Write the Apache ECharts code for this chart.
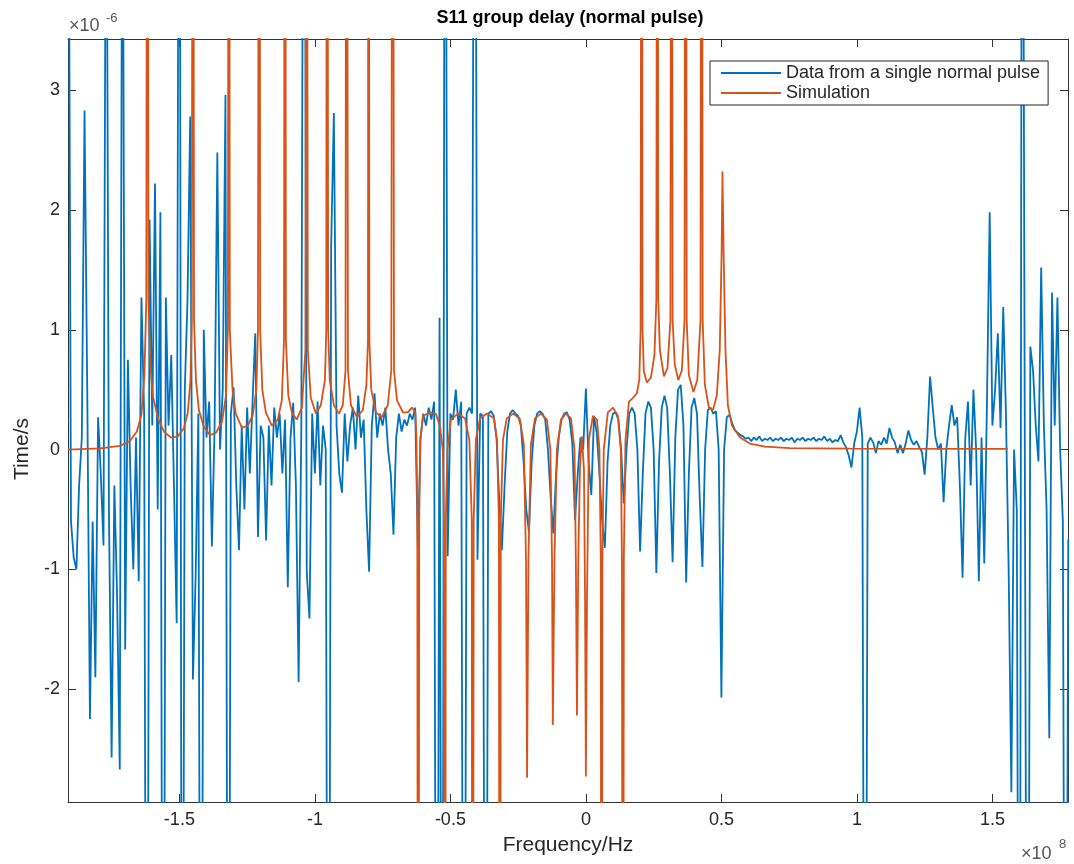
<!DOCTYPE html>
<html>
<head>
<meta charset="utf-8">
<script src="https://cdn.jsdelivr.net/npm/echarts@6/dist/echarts.min.js"></script>
<style>
html,body{margin:0;padding:0;background:#fff;}
#chart{width:1074px;height:864px;}
</style>
</head>
<body>
<div id="chart"></div>
<script>
// Frequency axis in units of 1e8 Hz, time axis in units of 1e-6 s
const titleText = 'S11 group delay (normal pulse)';
const xName = 'Frequency/Hz';
const yName = 'Time/s';
const seriesNames = ['Data from a single normal pulse', 'Simulation'];
const xTicks = [-1.5, -1, -0.5, 0, 0.5, 1, 1.5];
const yTicks = [-2, -1, 0, 1, 2, 3];
const xMin = -1.911, xMax = 1.779;
const yMin = -2.942, yMax = 3.427;

// measured data: uniform frequency grid
const dataFreqStart = -1.91;
const dataFreqStep = 0.01;
const dataDelay = [
6, -0.6, -0.9, -1.0, -0.3, 0.1, 2.83, 0.5, -2.25, -0.6,
-1.9, 0.27, -0.2, -0.8, 6, -0.5, -2.57, -0.3, -1.2, -2.67,
6, -1.67, 0.75, -0.3, -1.0, 0.1, -1.1, 1.27, 0.3, -8,
1.92, 0.2, 2.22, -0.5, 1.98, -8, 1.27, 0.2, 0.79, -0.3,
-1.45, 8, -8, 0.5, 1.25, 2.78, -1.92, -1.06, 0.3, -8,
1.0, 0.1, 0.4, -0.81, 0.2, 2.48, 0.0, 0.5, 2.96, -8,
0.3, 0.52, -0.3, -0.84, 0.2, -0.5, 0.35, -0.2, 0.4, 0.97,
-0.73, 0.2, 0.1, -0.76, 0.2, -0.3, 0.35, 0.1, 0.3, -0.2,
0.25, -1.15, 0.1, 0.39, -0.3, -1.94, 0.2, 8, -1.02, -1.41,
0.3, -0.2, 0.4, -0.3, 0.2, 0.0, -8, 1.69, 2.81, 0.2,
-0.2, -0.36, 0.3, -0.1, 0.2, 0.35, 0.0, 0.45, 0.1, 0.25,
-0.5, -1.02, 0.2, 0.47, 0.1, 0.3, 0.2, 0.35, 0.0, -0.2,
-0.71, 0.1, 0.3, 0.15, 0.25, 0.2, 0.3, 0.25, 0.35, -0.82,
0.1, 0.3, 0.2, 0.35, 0.25, 0.4, -8, 1.1, -8, 8,
-0.89, 0.3, 0.25, 0.5, 0.2, 0.4, -8, 0.3, 0.35, 0.3,
8, -0.92, 0.3, 0.28, -8, 0.3, 0.32, 0.28, 0.1, -0.4,
-0.84, -0.3, 0.15, 0.3, 0.33, 0.3, 0.28, 0.2, -0.1, -0.5,
-0.69, -0.1, 0.2, 0.3, 0.32, 0.3, 0.25, 0.0, -0.4, -0.7,
-0.2, 0.1, 0.25, 0.3, 0.31, 0.25, 0.05, -0.59, -0.2, 0.1,
0.0, 0.51, -0.1, -0.38, 0.28, 0.14, -0.2, -0.6, -0.82, -0.1,
0.2, 0.3, 0.31, 0.25, 0.0, -0.45, 0.0, 0.3, 0.35, 0.3,
0.0, -0.85, -0.2, 0.3, 0.40, 0.35, 0.0, -1.03, -0.1, 0.35,
0.45, 0.35, -0.2, -0.94, 0.1, 0.5, 0.54, 0.2, -1.11, -0.2,
0.35, 0.43, 0.3, -0.4, -0.98, 0.0, 0.33, 0.35, 0.3, 0.32,
0.0, -2.07, 0.0, 0.27, 0.29, 0.22, 0.16, 0.14, 0.12, 0.11,
0.09, 0.10, 0.07, 0.10, 0.08, 0.11, 0.07, 0.09, 0.08, 0.10,
0.07, 0.09, 0.08, 0.10, 0.07, 0.09, 0.08, 0.10, 0.06, 0.09,
0.08, 0.10, 0.07, 0.09, 0.08, 0.10, 0.07, 0.09, 0.08, 0.11,
0.07, 0.09, 0.06, 0.08, 0.07, 0.12, 0.06, 0.02, -0.05, -0.15,
0.05, 0.15, 0.35, 0.1, -8, 0.05, 0.1, 0.06, -0.03, 0.07,
0.04, 0.10, 0.05, 0.18, 0.10, 0.06, -0.03, 0.04, -0.03, 0.05,
0.16, 0.08, 0.04, 0.07, 0.02, -0.02, -0.21, 0.1, 0.61, 0.35,
0.1, 0.0, 0.05, -0.44, 0.0, 0.2, 0.37, 0.2, 0.27, -0.3,
-1.07, 0.1, 0.40, -0.3, 0.50, 0.0, -1.1, 0.1, -0.95, 0.4,
1.98, 0.2, 0.5, 0.97, 0.18, 1.19, 0.3, -1.0, -2.86, 0.0,
-0.5, -8, 8, -0.3, -8, 0.86, 0.66, 0.2, -0.1, 1.52,
0.2, -0.5, -2.41, 1.31, 0.2, 1.27, 0.0, -0.6, -8, -0.75
];

// simulation: [frequency (1e8 Hz), delay (1e-6 s)]
const simFreq = [
-1.911,-1.793,-1.720,-1.683,-1.657,-1.640,-1.629,-1.622,-1.618,-1.614,-1.607,-1.598,-1.579,-1.557,-1.531,
-1.506,-1.483,-1.469,-1.459,-1.454,-1.450,-1.446,-1.439,-1.428,-1.410,-1.387,-1.365,-1.343,-1.328,-1.321,
-1.317,-1.314,-1.304,-1.292,-1.269,-1.247,-1.229,-1.216,-1.210,-1.205,-1.202,-1.194,-1.181,-1.159,-1.137,
-1.122,-1.114,-1.110,-1.107,-1.098,-1.085,-1.067,-1.048,-1.035,-1.031,-1.026,-1.015,-0.996,-0.978,-0.963,
-0.958,-0.955,-0.951,-0.945,-0.930,-0.911,-0.897,-0.887,-0.883,-0.878,-0.867,-0.845,-0.823,-0.810,-0.804,
-0.802,-0.799,-0.792,-0.775,-0.753,-0.731,-0.718,-0.713,-0.708,-0.697,-0.675,-0.657,-0.642,-0.629,
-0.625,-0.622,-0.619,-0.615,-0.611,-0.601,-0.576,-0.554,-0.539,-0.528,-0.524,-0.520,-0.517,-0.511,
-0.498,-0.472,-0.446,-0.430,-0.421,-0.418,-0.414,-0.406,-0.391,-0.365,-0.339,-0.328,-0.321,-0.317,-0.314,
-0.306,-0.292,-0.269,-0.244,-0.229,-0.221,-0.217,-0.212,-0.203,-0.188,-0.166,-0.144,-0.131,-0.125,-0.122,
-0.116,-0.107,-0.092,-0.074,-0.055,-0.042,-0.037,-0.033,-0.028,-0.022,-0.015,-0.007,-0.003,0.000,0.004,
0.011,0.026,0.041,0.050,0.055,0.058,0.061,0.066,0.081,0.100,0.118,0.129,0.133,0.137,0.140,
0.146,0.159,0.173,0.188,0.197,0.202,0.206,0.209,0.214,0.225,0.240,0.253,0.260,0.264,0.267,
0.273,0.288,0.301,0.312,0.316,0.320,0.328,0.341,0.354,0.364,0.368,0.372,0.380,0.397,0.411,
0.423,0.427,0.431,0.439,0.454,0.469,0.483,0.494,0.501,0.504,0.508,0.515,0.524,0.539,0.569,
0.605,0.661,0.753,0.974,1.557
];
const simDelay = [
0.00,0.01,0.03,0.07,0.15,0.29,0.62,1.25,9,1.25,0.70,0.45,0.26,0.15,0.10,
0.11,0.18,0.31,0.58,1.08,9,1.08,0.58,0.33,0.19,0.12,0.14,0.23,0.45,1.0,
9,1.0,0.50,0.30,0.18,0.20,0.29,0.50,1.0,9,1.0,0.50,0.31,0.20,0.25,
0.41,0.91,9,0.91,0.45,0.31,0.25,0.35,0.83,9,0.83,0.43,0.30,0.37,0.58,
1.0,9,1.0,0.58,0.37,0.30,0.37,0.66,9,0.66,0.37,0.27,0.33,0.54,0.91,
9,0.91,0.50,0.31,0.27,0.37,0.66,9,0.66,0.41,0.31,0.31,0.35,0.31,
0.08,-0.59,-9,-0.59,0.08,0.28,0.31,0.30,0.20,0.0,-0.59,-9,-0.59,0.0,
0.25,0.30,0.26,0.08,-0.59,-9,-0.59,0.08,0.26,0.30,0.26,0.08,-0.59,-9,-0.59,
0.08,0.26,0.30,0.26,0.04,-0.92,-2.74,-0.92,0.04,0.26,0.30,0.25,0.0,-0.92,-2.30,
-0.92,0.0,0.25,0.30,0.26,0.0,-0.92,-2.22,-0.92,-0.17,0.11,-0.17,-1.26,-2.73,-1.26,
0.08,0.28,0.25,0.0,-0.92,-9,-0.92,0.0,0.31,0.35,0.28,0.0,-0.92,-9,-0.92,
0.08,0.40,0.43,0.47,0.58,1.0,9,1.0,0.65,0.56,0.60,0.79,1.25,9,1.25,
0.83,0.61,0.68,1.08,9,1.08,0.71,0.58,0.66,1.08,9,1.08,0.62,0.48,0.58,
1.08,9,1.08,0.54,0.35,0.33,0.45,0.83,1.67,2.32,1.67,0.83,0.37,0.20,0.10,
0.05,0.025,0.012,0.008,0.005
];

const dataSeries = dataDelay.map((v, i) => [+(dataFreqStart + i * dataFreqStep).toFixed(4), v]);
const simSeries = simFreq.map((f, i) => [f, simDelay[i]]);

const axisColor = '#333333';
const textColor = '#262626';
const fontFamily = '"Liberation Sans", Arial, Helvetica, sans-serif';

const chart = echarts.init(document.getElementById('chart'), null, {renderer: 'canvas'});
const baseX = {
  type: 'value', min: xMin, max: xMax,
  splitLine: {show: false},
  axisLine: {show: true, onZero: false, lineStyle: {color: axisColor, width: 1}},
  axisTick: {show: true, inside: true, length: 8, customValues: xTicks, lineStyle: {color: axisColor}},
};
const baseY = {
  type: 'value', min: yMin, max: yMax,
  splitLine: {show: false},
  axisLine: {show: true, onZero: false, lineStyle: {color: axisColor, width: 1}},
  axisTick: {show: true, inside: true, length: 8, customValues: yTicks, lineStyle: {color: axisColor}},
};
chart.setOption({
  animation: false,
  backgroundColor: '#ffffff',
  title: {
    text: titleText, left: 570, top: 9, textAlign: 'center', padding: 0,
    textStyle: {fontSize: 18, fontWeight: 'bold', color: '#000', fontFamily: fontFamily}
  },
  legend: {
    orient: 'vertical', left: 710, top: 61,
    padding: [3, 8, 3, 11], itemGap: 2, itemWidth: 60, itemHeight: 2, icon: 'rect',
    borderColor: '#262626', borderWidth: 1, borderRadius: 0, backgroundColor: '#ffffff',
    textStyle: {fontSize: 18, color: textColor, fontFamily: fontFamily, lineHeight: 18},
    data: seriesNames
  },
  grid: {left: 68, right: 6, top: 39, bottom: 62, containLabel: false},
  xAxis: [
    Object.assign({}, baseX, {
      position: 'bottom',
      name: xName, nameLocation: 'middle', nameGap: 33,
      nameTextStyle: {fontSize: 21, color: textColor, fontFamily: fontFamily},
      axisLabel: {show: true, customValues: xTicks, margin: 9, fontSize: 18, color: textColor, fontFamily: fontFamily,
        formatter: v => String(v)}
    }),
    Object.assign({}, baseX, {position: 'top', axisLabel: {show: false}})
  ],
  yAxis: [
    Object.assign({}, baseY, {
      position: 'left',
      axisLabel: {show: true, customValues: yTicks, margin: 8, fontSize: 18, color: textColor, fontFamily: fontFamily,
        formatter: v => String(v)}
    }),
    Object.assign({}, baseY, {position: 'right', axisLabel: {show: false}})
  ],
  graphic: [
    {type: 'text', x: 22, y: 449, rotation: Math.PI / 2,
      style: {text: yName, fontSize: 21, fill: textColor, fontFamily: fontFamily, align: 'center', verticalAlign: 'middle'}},
    {type: 'text', left: 69, top: 17, style: {text: '\u00d710', fontSize: 18, fill: '#555', fontFamily: fontFamily}},
    {type: 'text', left: 106, top: 12, style: {text: '-6', fontSize: 13, fill: '#555', fontFamily: fontFamily}},
    {type: 'text', left: 1021, top: 845, style: {text: '\u00d710', fontSize: 18, fill: '#555', fontFamily: fontFamily}},
    {type: 'text', left: 1059, top: 838, style: {text: '8', fontSize: 13, fill: '#555', fontFamily: fontFamily}}
  ],
  series: [
    {
      name: seriesNames[0], type: 'line', data: dataSeries, xAxisIndex: 0, yAxisIndex: 0,
      symbol: 'none', showSymbol: false, clip: true,
      lineStyle: {color: '#0072BD', width: 1.8}, itemStyle: {color: '#0072BD'}, z: 2
    },
    {
      name: seriesNames[1], type: 'line', data: simSeries, xAxisIndex: 0, yAxisIndex: 0,
      symbol: 'none', showSymbol: false, clip: true,
      lineStyle: {color: '#D95319', width: 1.8}, itemStyle: {color: '#D95319'}, z: 3
    }
  ]
});
</script>
</body>
</html>
